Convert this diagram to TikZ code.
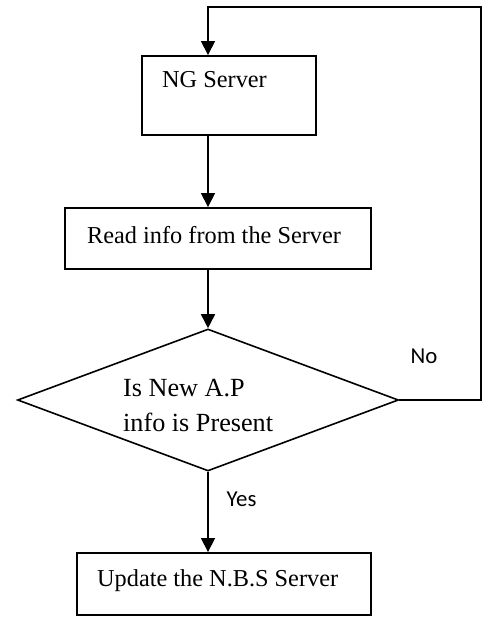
\documentclass[tikz,border=0pt]{standalone}
\usepackage{fontspec}
\setmainfont{Liberation Serif}
\newfontfamily\labfont{Carlito}
\usetikzlibrary{arrows.meta,shapes.geometric}
\begin{document}
\begin{tikzpicture}[x=1pt,y=-1pt,
  every node/.style={inner sep=0pt},
  box/.style={draw,line width=1.9pt,rectangle},
  decision/.style={draw,line width=1.6pt,diamond},
  txt/.style={anchor=base west,font=\fontsize{24.3}{28}\selectfont},
  qtxt/.style={anchor=base west,font=\fontsize{26.2}{30}\selectfont},
  lab/.style={anchor=base west,font=\labfont\fontsize{22.8}{26}\selectfont},
  arr/.style={line width=1.7pt,-{Triangle[length=14pt,width=14pt]}}]
\useasboundingbox (0,0) rectangle (484,618);

\node[box,minimum width=174pt,minimum height=79pt] (ng) at (229,95.5) {};
\node[txt] (ngt) at (162,88) {NG Server};

\node[box,minimum width=306pt,minimum height=61pt] (rd) at (218,238.5) {};
\node[txt] (rdt) at (87,243) {Read info from the Server};

\node[decision,minimum width=381pt,minimum height=142pt] (dia) at (208,400) {};
\node[qtxt] (q1) at (123,396) {Is New A.P};
\node[qtxt] (q2) at (123,431) {info is Present};

\node[box,minimum width=294pt,minimum height=62pt] (up) at (224,584) {};
\node[txt] (upt) at (97,586) {Update the N.B.S Server};

\coordinate (corner) at (481,7);

\draw[arr] (ng.south -| dia.north) -- (rd.north -| dia.north);
\draw[arr] (rd.south -| dia.north) -- (dia.north);
\draw[arr] (dia.south) -- (up.north -| dia.south);
\draw[arr] (dia.east) -| (corner) -| (ng.north -| dia.north);

\node[lab] (no) at (410.5,363) {No};
\node[lab] (yes) at (226.5,506) {Yes};
\end{tikzpicture}
\end{document}
